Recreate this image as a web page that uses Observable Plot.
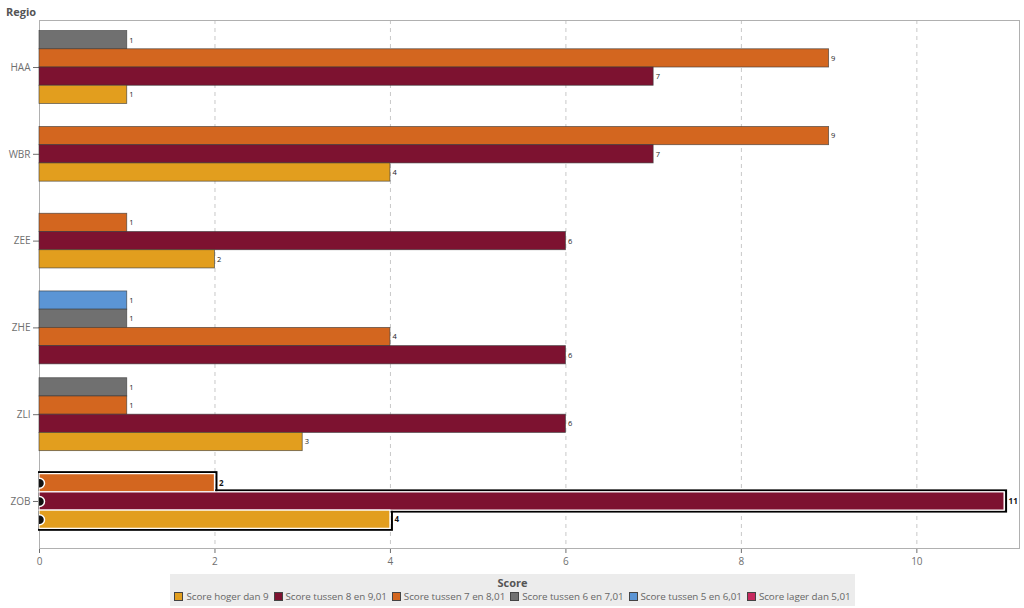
<!DOCTYPE html>
<html>
<head>
<meta charset="utf-8">
<script src="https://cdn.jsdelivr.net/npm/d3@7"></script>
<script src="https://cdn.jsdelivr.net/npm/@observablehq/plot@0.6"></script>
<style>
  html, body { margin: 0; padding: 0; background: #fff; }
  body { position: relative; width: 1024px; height: 608px; font-family: "Open Sans", "Noto Sans", sans-serif; overflow: hidden; }
  #title { position: absolute; left: 6px; top: 4px; font-size: 11px; font-weight: bold; color: #555; }
  #chart { position: absolute; left: 0; top: 0; }
  #legend { position: absolute; left: 170px; top: 574px; width: 685px; height: 32px; background: #ececec; text-align: center; color: #666; font-size: 9.8px; }
  #legend .lt { font-weight: bold; font-size: 11px; color: #555; line-height: 14px; padding-top: 2px; }
  #legend .items { line-height: 14px; white-space: nowrap; letter-spacing: -0.05px; }
  #legend .it { display: inline-block; margin: 0 2.5px; }
  #legend .sw { display: inline-block; width: 9px; height: 9px; border: 1px solid #444; vertical-align: -1px; margin-right: 3px; box-sizing: border-box; }
</style>
</head>
<body>
<div id="title">Regio</div>
<div id="chart"></div>
<div id="legend"></div>
<script>
// ---- data ----
const regions = ["HAA", "WBR", "ZEE", "ZHE", "ZLI", "ZOB"];
const series = [
  "Score hoger dan 9",
  "Score tussen 8 en 9,01",
  "Score tussen 7 en 8,01",
  "Score tussen 6 en 7,01",
  "Score tussen 5 en 6,01",
  "Score lager dan 5,01"
];
const valHoger9 = [1, 4, 2, null, 3, 4];
const val8to9   = [7, 7, 6, 6, 6, 11];
const val7to8   = [9, 9, 1, 4, 1, 2];
const val6to7   = [1, null, null, 1, 1, null];
const val5to6   = [null, null, null, 1, null, null];
const valLager5 = [null, null, null, null, null, null];
const seriesValues = [valHoger9, val8to9, val7to8, val6to7, val5to6, valLager5];
const highlighted = "ZOB";
const xTicks = [0, 2, 4, 6, 8, 10];

// ---- styles ----
const colors = ["#E29E1E", "#7D1230", "#D3661F", "#707070", "#5B95D5", "#C72A5F"];
const barWidthUnits = 0.21;   // bar thickness in region-band units
const xMax = 11.17;
const yPad = 0.5417;

// ---- build rows (bars dodged within each region, centered) ----
const rows = [];
regions.forEach((r, ri) => {
  const present = [];
  for (let s = series.length - 1; s >= 0; s--) {
    const v = seriesValues[s][ri];
    if (v != null) present.push({ s, v });
  }
  const n = present.length;
  present.forEach((p, i) => {
    const y1 = ri - n * barWidthUnits / 2 + i * barWidthUnits;
    rows.push({
      region: r,
      series: series[p.s],
      value: p.v,
      y1, y2: y1 + barWidthUnits, ym: y1 + barWidthUnits / 2,
      hi: r === highlighted
    });
  });
});
const normal = rows.filter(d => !d.hi);
const hi = rows.filter(d => d.hi);

const chart = Plot.plot({
  width: 1024,
  height: 572,
  marginLeft: 39,
  marginRight: 5,
  marginTop: 20,
  marginBottom: 24,
  style: { fontFamily: "'Open Sans', 'Noto Sans', sans-serif", fontSize: "10px", color: "#6f6f6f", background: "transparent" },
  x: { domain: [0, xMax], ticks: xTicks, tickSize: 5, line: true, label: null, tickPadding: 4 },
  y: { domain: [-yPad, regions.length - 1 + yPad], reverse: true, ticks: regions.map((_, i) => i), tickFormat: i => regions[i], tickSize: 6, line: true, label: null, tickPadding: 3 },
  color: { domain: series, range: colors },
  marks: [
    Plot.ruleX(xTicks.filter(t => t > 0), { stroke: "#c8c8c8", strokeDasharray: "4,4" }),
    Plot.frame({ stroke: "#b0b0b0" }),
    Plot.rect(normal, { x1: 0, x2: "value", y1: "y1", y2: "y2", fill: "series", stroke: "#3a3a3a", strokeOpacity: 0.75, strokeWidth: 0.8 }),
    Plot.rect(hi, { x1: 0, x2: "value", y1: "y1", y2: "y2", fill: "none", stroke: "#000", strokeWidth: 2, insetTop: -1.5, insetBottom: -1.5, insetRight: -2 }),
    Plot.rect(hi, { x1: 0, x2: "value", y1: "y1", y2: "y2", fill: "series", stroke: "#fff", strokeWidth: 1.2 }),
    Plot.dot(hi, { x: 0, y: "ym", r: 5, fill: "#111", stroke: "#fff", strokeWidth: 1.5, clip: true }),
    Plot.text(normal, { x: "value", y: "ym", text: d => String(d.value), dx: 2, textAnchor: "start", fontSize: 7.5, fill: "#222" }),
    Plot.text(hi, { x: "value", y: "ym", text: d => String(d.value), dx: 4, textAnchor: "start", fontSize: 8, fontWeight: "bold", fill: "#111" })
  ]
});
document.getElementById("chart").appendChild(chart);

// ---- legend (from the same series & color scale) ----
const colorScale = chart.scale("color");
const lg = document.getElementById("legend");
const lt = document.createElement("div");
lt.className = "lt";
lt.textContent = "Score";
lg.appendChild(lt);
const items = document.createElement("div");
items.className = "items";
colorScale.domain.forEach((s, i) => {
  const it = document.createElement("span");
  it.className = "it";
  const sw = document.createElement("span");
  sw.className = "sw";
  sw.style.background = colorScale.range[i];
  it.appendChild(sw);
  it.appendChild(document.createTextNode(s));
  items.appendChild(it);
});
lg.appendChild(items);
</script>
</body>
</html>
